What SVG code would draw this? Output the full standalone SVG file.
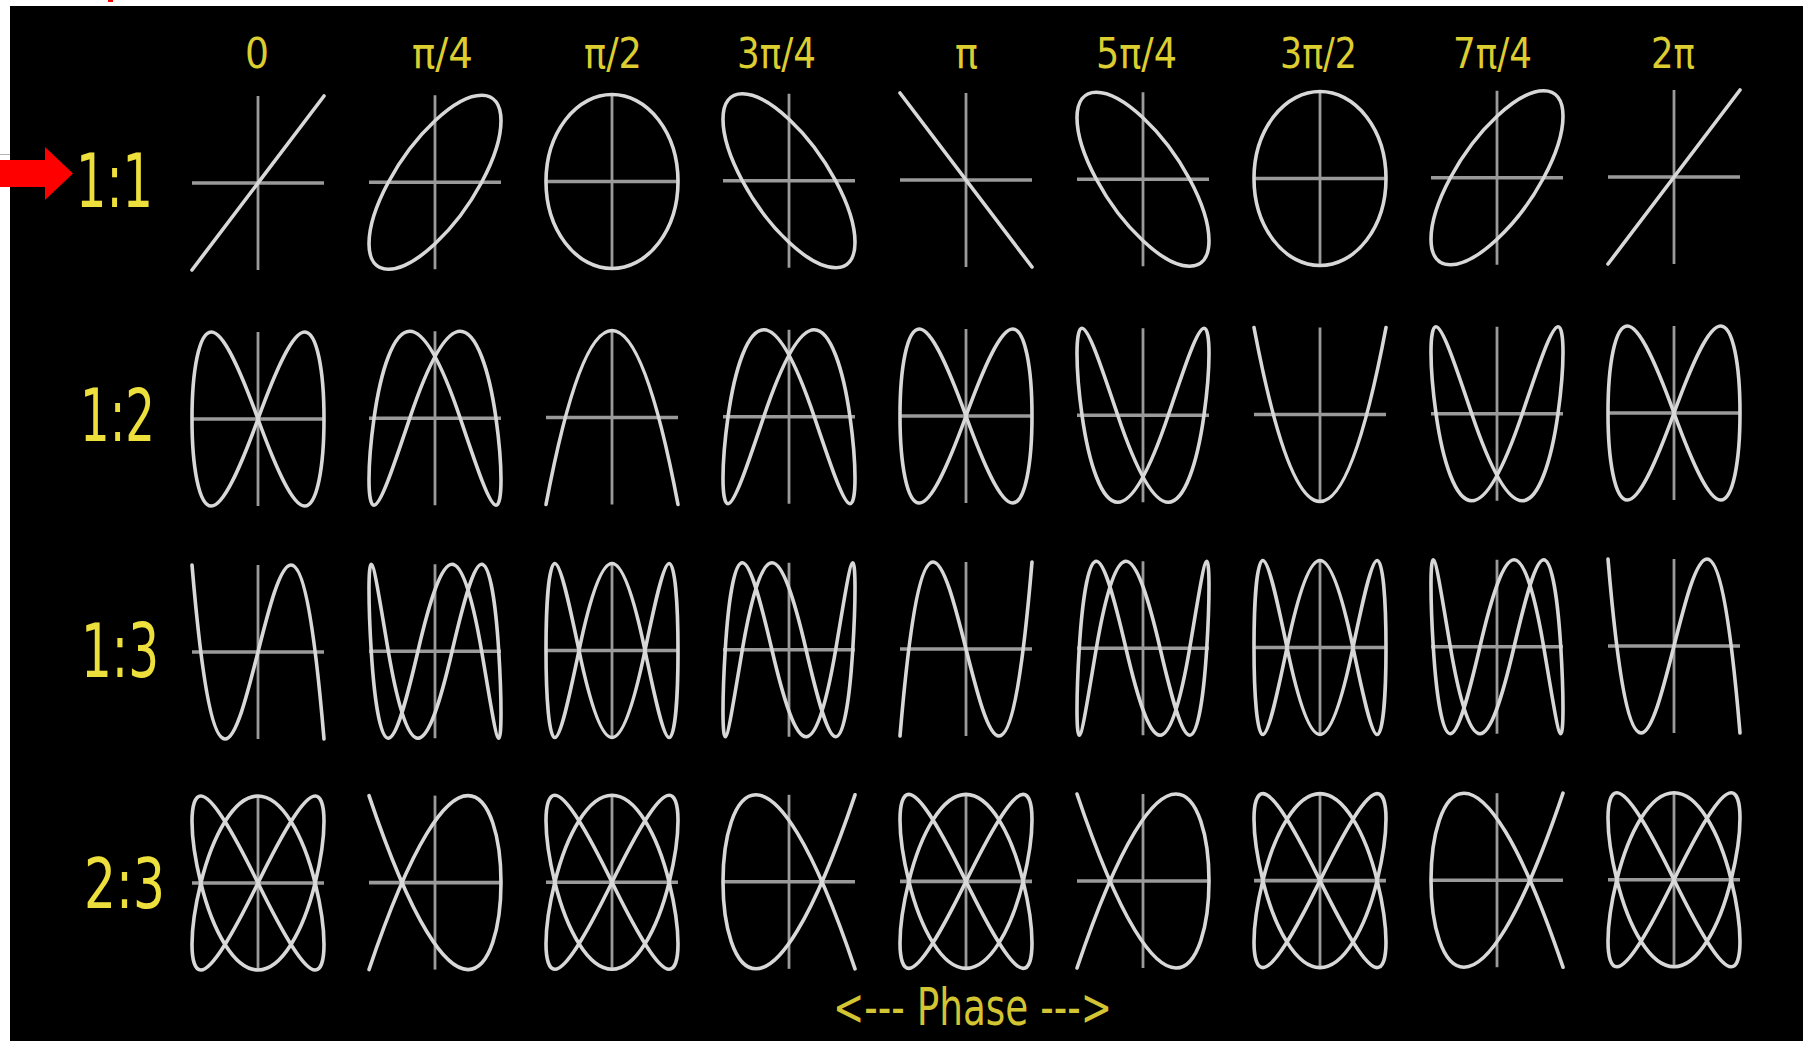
<svg xmlns="http://www.w3.org/2000/svg" width="1803" height="1041" viewBox="0 0 1803 1041">
<style>
.ax{stroke:#9a9a9a;fill:none}
.cv{stroke:#d8d8d8;stroke-width:3.6;fill:none;stroke-linecap:round;stroke-linejoin:round}
.cl{font-family:"DejaVu Sans","Liberation Sans",sans-serif;fill:#dccd30;font-size:42px;text-anchor:middle}
.rl{font-family:"DejaVu Sans","Liberation Sans",sans-serif;fill:#eee03c;text-anchor:middle}
.pl{font-family:"DejaVu Sans","Liberation Sans",sans-serif;fill:#d2c432;font-size:52px;text-anchor:middle}
</style>
<defs>
<g id="axes"><path d="M-66,0H66" stroke-width="3.6"/><path d="M0,-87V87" stroke-width="2.8"/></g>
<path id="line" d="M-66,87L66,-87"/>
<path id="ell" d="M0,-61.52C36.45,-95.5 66,-95.5 66,-61.52C66,-27.54 36.45,27.54 0,61.52C-36.45,95.5 -66,95.5 -66,61.52C-66,27.54 -36.45,-27.54 0,-61.52Z"/>
<ellipse id="circ" cx="0" cy="0" rx="66" ry="87"/>
<path id="fig8" d="M0,0C17.5,-48.05 34.3,-87 46.67,-87C59.04,-87 66,-48.05 66,0C66,48.05 59.04,87 46.67,87C34.3,87 17.5,48.05 0,0C-17.5,-48.05 -34.3,-87 -46.67,-87C-59.04,-87 -66,-48.05 -66,0C-66,48.05 -59.04,87 -46.67,87C-34.3,87 -17.5,48.05 0,0Z"/>
<path id="arch" d="M25.26,-87C41.43,-87 54.28,-48.05 60.98,0C67.68,48.05 67.68,87 60.98,87C54.28,87 41.43,48.05 25.26,0C9.09,-48.05 -9.09,-87 -25.26,-87C-41.43,-87 -54.28,-48.05 -60.98,0C-67.68,48.05 -67.68,87 -60.98,87C-54.28,87 -41.43,48.05 -25.26,0C-9.09,-48.05 9.09,-87 25.26,-87Z"/>
<path id="para" d="M-66,87Q0,-261 66,87"/>
<path id="cub" d="M-66,-87C-22,435 22,-435 66,87"/>
<path id="c3a" d="M17.08,-87C28.27,-87 38.48,-48.05 46.67,0C54.86,48.05 60.75,87 63.75,87C66.75,87 66.75,48.05 63.75,0C60.75,-48.05 54.86,-87 46.67,-87C38.48,-87 28.27,-48.05 17.08,0C5.89,48.05 -5.89,87 -17.08,87C-28.27,87 -38.48,48.05 -46.67,0C-54.86,-48.05 -60.75,-87 -63.75,-87C-66.75,-87 -66.75,-48.05 -63.75,0C-60.75,48.05 -54.86,87 -46.67,87C-38.48,87 -28.27,48.05 -17.08,0C-5.89,-48.05 5.89,-87 17.08,-87Z"/>
<path id="c3b" d="M0,-87C11.59,-87 22.97,-48.05 33,0C43.03,48.05 51.37,87 57.16,87C62.95,87 66,48.05 66,0C66,-48.05 62.95,-87 57.16,-87C51.37,-87 43.03,-48.05 33,0C22.97,48.05 11.59,87 0,87C-11.59,87 -22.97,48.05 -33,0C-43.03,-48.05 -51.37,-87 -57.16,-87C-62.95,-87 -66,-48.05 -66,0C-66,48.05 -62.95,87 -57.16,87C-51.37,87 -43.03,48.05 -33,0C-22.97,-48.05 -11.59,-87 0,-87Z"/>
<path id="l23" d="M0,0C23.58,-48.05 45.37,-87 57.16,-87C68.95,-87 68.95,-48.05 57.16,0C45.37,48.05 23.58,87 0,87C-23.58,87 -45.37,48.05 -57.16,0C-68.95,-48.05 -68.95,-87 -57.16,-87C-45.37,-87 -23.58,-48.05 0,0C23.58,48.05 45.37,87 57.16,87C68.95,87 68.95,48.05 57.16,0C45.37,-48.05 23.58,-87 0,-87C-23.58,-87 -45.37,-48.05 -57.16,0C-68.95,48.05 -68.95,87 -57.16,87C-45.37,87 -23.58,48.05 0,0Z"/>
<path id="o23" d="M-66,87C110,-435 110,435 -66,-87"/>
</defs>
<rect x="0" y="0" width="1803" height="1041" fill="#ffffff"/>
<path d="M0,154.5H12" stroke="#b4b4b4" stroke-width="1"/>
<rect x="108" y="0" width="5" height="2" fill="#ff0000"/>
<rect id="panel" x="10" y="6" width="1793" height="1035" fill="#000000"/>

<g id="col-labels">
<text class="cl" x="257" y="68" textLength="24" lengthAdjust="spacingAndGlyphs">0</text>
<text class="cl" x="442.5" y="68" textLength="61" lengthAdjust="spacingAndGlyphs">π/4</text>
<text class="cl" x="613" y="68" textLength="58" lengthAdjust="spacingAndGlyphs">π/2</text>
<text class="cl" x="776.5" y="68" textLength="79" lengthAdjust="spacingAndGlyphs">3π/4</text>
<text class="cl" x="966.5" y="68" textLength="23" lengthAdjust="spacingAndGlyphs">π</text>
<text class="cl" x="1136.5" y="68" textLength="81" lengthAdjust="spacingAndGlyphs">5π/4</text>
<text class="cl" x="1318.5" y="68" textLength="77" lengthAdjust="spacingAndGlyphs">3π/2</text>
<text class="cl" x="1492.5" y="68" textLength="79" lengthAdjust="spacingAndGlyphs">7π/4</text>
<text class="cl" x="1673" y="68" textLength="44" lengthAdjust="spacingAndGlyphs">2π</text>
</g>

<g id="row-labels">
<text class="rl" x="114.5" y="207" font-size="74" textLength="77" lengthAdjust="spacingAndGlyphs">1:1</text>
<text class="rl" x="117.5" y="441" font-size="73" textLength="75" lengthAdjust="spacingAndGlyphs">1:2</text>
<text class="rl" x="120" y="677" font-size="74" textLength="78" lengthAdjust="spacingAndGlyphs">1:3</text>
<text class="rl" x="124.5" y="908" font-size="70" textLength="81" lengthAdjust="spacingAndGlyphs">2:3</text>
</g>

<g id="row-1-1">
<g id="f11-0" transform="translate(258,183)"><use href="#axes" class="ax"/><use href="#line" class="cv"/></g>
<g id="f11-1" transform="translate(435,182.25)"><use href="#axes" class="ax"/><use href="#ell" class="cv"/></g>
<g id="f11-2" transform="translate(612,181.5)"><use href="#axes" class="ax"/><use href="#circ" class="cv"/></g>
<g id="f11-3" transform="translate(789,180.75)"><use href="#axes" class="ax"/><use href="#ell" class="cv" transform="scale(-1,1)"/></g>
<g id="f11-4" transform="translate(966,180)"><use href="#axes" class="ax"/><use href="#line" class="cv" transform="scale(-1,1)"/></g>
<g id="f11-5" transform="translate(1143,179.25)"><use href="#axes" class="ax"/><use href="#ell" class="cv" transform="scale(-1,1)"/></g>
<g id="f11-6" transform="translate(1320,178.5)"><use href="#axes" class="ax"/><use href="#circ" class="cv"/></g>
<g id="f11-7" transform="translate(1497,177.75)"><use href="#axes" class="ax"/><use href="#ell" class="cv"/></g>
<g id="f11-8" transform="translate(1674,177)"><use href="#axes" class="ax"/><use href="#line" class="cv"/></g>
</g>

<g id="row-1-2">
<g id="f12-0" transform="translate(258,419)"><use href="#axes" class="ax"/><use href="#fig8" class="cv"/></g>
<g id="f12-1" transform="translate(435,418.25)"><use href="#axes" class="ax"/><use href="#arch" class="cv"/></g>
<g id="f12-2" transform="translate(612,417.5)"><use href="#axes" class="ax"/><use href="#para" class="cv"/></g>
<g id="f12-3" transform="translate(789,416.75)"><use href="#axes" class="ax"/><use href="#arch" class="cv"/></g>
<g id="f12-4" transform="translate(966,416)"><use href="#axes" class="ax"/><use href="#fig8" class="cv"/></g>
<g id="f12-5" transform="translate(1143,415.25)"><use href="#axes" class="ax"/><use href="#arch" class="cv" transform="scale(1,-1)"/></g>
<g id="f12-6" transform="translate(1320,414.5)"><use href="#axes" class="ax"/><use href="#para" class="cv" transform="scale(1,-1)"/></g>
<g id="f12-7" transform="translate(1497,413.75)"><use href="#axes" class="ax"/><use href="#arch" class="cv" transform="scale(1,-1)"/></g>
<g id="f12-8" transform="translate(1674,413)"><use href="#axes" class="ax"/><use href="#fig8" class="cv"/></g>
</g>

<g id="row-1-3">
<g id="f13-0" transform="translate(258,652)"><use href="#axes" class="ax"/><use href="#cub" class="cv"/></g>
<g id="f13-1" transform="translate(435,651.25)"><use href="#axes" class="ax"/><use href="#c3a" class="cv"/></g>
<g id="f13-2" transform="translate(612,650.5)"><use href="#axes" class="ax"/><use href="#c3b" class="cv"/></g>
<g id="f13-3" transform="translate(789,649.75)"><use href="#axes" class="ax"/><use href="#c3a" class="cv" transform="scale(-1,1)"/></g>
<g id="f13-4" transform="translate(966,649)"><use href="#axes" class="ax"/><use href="#cub" class="cv" transform="scale(1,-1)"/></g>
<g id="f13-5" transform="translate(1143,648.25)"><use href="#axes" class="ax"/><use href="#c3a" class="cv" transform="scale(-1,1)"/></g>
<g id="f13-6" transform="translate(1320,647.5)"><use href="#axes" class="ax"/><use href="#c3b" class="cv"/></g>
<g id="f13-7" transform="translate(1497,646.75)"><use href="#axes" class="ax"/><use href="#c3a" class="cv"/></g>
<g id="f13-8" transform="translate(1674,646)"><use href="#axes" class="ax"/><use href="#cub" class="cv"/></g>
</g>

<g id="row-2-3">
<g id="f23-0" transform="translate(258,883)"><use href="#axes" class="ax"/><use href="#l23" class="cv"/></g>
<g id="f23-1" transform="translate(435,882.6)"><use href="#axes" class="ax"/><use href="#o23" class="cv"/></g>
<g id="f23-2" transform="translate(612,882.2)"><use href="#axes" class="ax"/><use href="#l23" class="cv"/></g>
<g id="f23-3" transform="translate(789,881.8)"><use href="#axes" class="ax"/><use href="#o23" class="cv" transform="scale(-1,1)"/></g>
<g id="f23-4" transform="translate(966,881.4)"><use href="#axes" class="ax"/><use href="#l23" class="cv"/></g>
<g id="f23-5" transform="translate(1143,881)"><use href="#axes" class="ax"/><use href="#o23" class="cv"/></g>
<g id="f23-6" transform="translate(1320,880.6)"><use href="#axes" class="ax"/><use href="#l23" class="cv"/></g>
<g id="f23-7" transform="translate(1497,880.2)"><use href="#axes" class="ax"/><use href="#o23" class="cv" transform="scale(-1,1)"/></g>
<g id="f23-8" transform="translate(1674,879.8)"><use href="#axes" class="ax"/><use href="#l23" class="cv"/></g>
</g>

<g id="connectors"></g>

<text id="phase" class="pl" x="972.5" y="1025" textLength="279" lengthAdjust="spacingAndGlyphs">&lt;--- Phase ---&gt;</text>

<polygon id="red-arrow" points="0,160 45,160 45,147 73,173.5 45,200 45,187 0,187" fill="#ff0000"/>
</svg>
